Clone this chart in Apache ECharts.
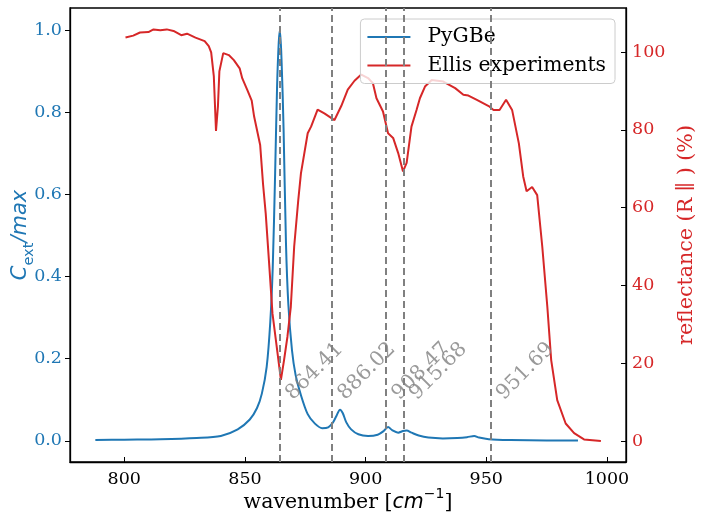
<!DOCTYPE html>
<html lang="en">
<head>
    <meta charset="UTF-8">
    <title>PyGBe vs Ellis</title>
    <style>
        html, body { margin: 0; padding: 0; background: #fff; }
        #chart1 { width: 706px; height: 524px; }
    </style>
</head>
<body>
<div id="chart1"></div>

<script type="text/javascript" src="https://cdn.jsdelivr.net/npm/echarts@6/dist/echarts.min.js"></script>
<script type="text/javascript">
    // PyGBe extinction (normalised), [wavenumber, Cext/max]
    var pygbeWn = [788, 800, 815, 830, 840, 847, 852, 855, 857, 859, 860.5, 861.5, 862.5, 863.3, 864.0, 864.5,
        865.2, 866.0, 867.0, 868.0, 869.5, 871, 873, 876, 879, 882, 884.5, 886.5, 888, 889.4, 890.5, 892, 894,
        897, 901, 905, 907.5, 909.3, 911, 913.5, 915.5, 917, 919, 922, 926, 932, 938, 942, 945, 947, 951, 960, 975, 988];
    var pygbeVal = [0.002, 0.003, 0.004, 0.007, 0.012, 0.028, 0.052, 0.08, 0.115, 0.18, 0.29, 0.42, 0.65, 0.86, 0.97, 1.0,
        0.92, 0.76, 0.48, 0.33, 0.22, 0.16, 0.115, 0.065, 0.042, 0.031, 0.033, 0.045, 0.062, 0.076, 0.068, 0.045, 0.028,
        0.016, 0.012, 0.015, 0.024, 0.034, 0.026, 0.02, 0.024, 0.025, 0.02, 0.013, 0.008, 0.006, 0.007, 0.009, 0.012, 0.008, 0.004, 0.002, 0.001, 0.001];

    // Ellis experiments reflectance (%)
    var ellisWn = [800.5, 803.7, 806.5, 810, 812.1, 814.9, 817.6, 820.4, 823.6, 826, 829.5, 833.3, 835, 836, 837.1, 838,
        838.8, 839.4, 841, 843.3, 845.4, 847.8, 848.9, 851, 852.8, 853.8, 856.3, 857.5, 858.6, 860, 861.4, 862.8, 864.9,
        866.2, 867.6, 869, 870.4, 872.1, 873.2, 876, 877.4, 880.1, 882.9, 887.1, 889.9, 892.6, 895.4, 898.2, 901, 903,
        904.5, 907.2, 909.3, 911.4, 913.5, 915.5, 917, 919, 921.1, 922.5, 924.6, 927.4, 932.2, 937.1, 940.5, 942.6, 946.1,
        951, 953, 955.5, 958.2, 960.7, 963.5, 965.3, 966.7, 969, 971.1, 973.2, 975.3, 976.9, 979.4, 982.9, 986.4, 990.5, 997.5];
    var ellisVal = [103.7, 104.2, 105.0, 105.1, 105.8, 105.6, 105.8, 105.4, 104.3, 104.7, 103.7, 102.8, 101.5, 99.9, 93.7, 79.7,
        86, 95, 99.7, 99.2, 97.9, 95.8, 93.2, 90.2, 87.5, 83.4, 76.1, 66, 58.5, 45.8, 32.8, 26, 15.7,
        20.8, 26.8, 34.5, 50, 62, 68.8, 79.1, 80.8, 85.2, 84.2, 82.5, 86.1, 90.3, 92.6, 94.2, 93.3, 92,
        88.1, 84.7, 79.1, 77.9, 74, 69.3, 71.5, 80.8, 85.1, 88.1, 91.1, 92.8, 92.4, 90.7, 89, 88.8, 87.7,
        86.1, 85.1, 85.1, 87.7, 85.1, 76.5, 68, 64.2, 65.3, 63.2, 50, 34.5, 20.8, 10.5, 4.5, 2, 0.4, 0];

    // resonance positions marked with dashed lines
    var peakWn = [864.41, 886.02, 908.47, 915.68, 951.69];

    var xTicks = [800, 850, 900, 950, 1000];
    var leftTicks = [0, 0.2, 0.4, 0.6, 0.8, 1.0];
    var rightTicks = [0, 20, 40, 60, 80, 100];

    var BLUE = '#1f77b4', RED = '#d62728', GRAY = '#808080';
    var SERIF = 'DejaVu Serif', SANS = 'DejaVu Sans';

    function zip(a, b) {
        return a.map(function (v, i) { return [v, b[i]]; });
    }

    var myChart1 = echarts.init(document.getElementById('chart1'));
    myChart1.setOption({
        animation: false,
        grid: {
            left: 70, right: 80, top: 8, bottom: 62,
            containLabel: false, outerBoundsMode: 'none',
            show: true, borderColor: '#000', borderWidth: 1.3, backgroundColor: 'transparent'
        },
        legend: {
            orient: 'vertical',
            right: 91, top: 19,
            icon: 'rect',
            itemWidth: 43, itemHeight: 2, itemGap: 8.5,
            padding: [8, 9, 8, 7],
            backgroundColor: 'rgba(255,255,255,0.8)',
            borderColor: '#cccccc', borderWidth: 1, borderRadius: 4,
            textStyle: { fontFamily: SERIF, fontSize: 20.3, lineHeight: 20, color: '#000', padding: [0, 0, 0, 12] },
            data: ['PyGBe', 'Ellis experiments']
        },
        xAxis: {
            type: 'value',
            min: 777.5, max: 1007.9,
            axisLine: { show: true, onZero: false, lineStyle: { color: '#000', width: 1.3 } },
            axisTick: { show: true, inside: true, length: 5, customValues: xTicks, lineStyle: { color: '#000' } },
            axisLabel: {
                customValues: xTicks, margin: 8, fontFamily: SERIF, fontSize: 17.5, color: '#000',
                formatter: function (v) { return String(v); }
            },
            splitLine: { show: false },
            name: '{a|wavenumber [}{m|cm}{s|−1}{a|]}',
            nameLocation: 'middle',
            nameMoveOverlap: false,
            nameGap: 25,
            nameTextStyle: {
                rich: {
                    a: { fontFamily: SERIF, fontSize: 20.5, color: '#000', lineHeight: 26, verticalAlign: 'bottom' },
                    m: { fontFamily: SANS, fontStyle: 'italic', fontSize: 20.5, color: '#000', lineHeight: 26, verticalAlign: 'bottom' },
                    s: { fontFamily: SANS, fontSize: 14, color: '#000', lineHeight: 26, verticalAlign: 'top' }
                }
            }
        },
        yAxis: [
            {
                type: 'value',
                min: -0.0514, max: 1.0535,
                position: 'left',
                axisLine: { show: true, onZero: false, lineStyle: { color: '#000', width: 1.3 } },
                axisTick: { show: true, inside: false, length: 5, customValues: leftTicks, lineStyle: { color: '#000' } },
                axisLabel: {
                    customValues: leftTicks, margin: 8, fontFamily: SERIF, fontSize: 17.5, color: BLUE,
                    formatter: function (v) { return v.toFixed(1); }
                },
                splitLine: { show: false },
                name: '{i|C}{s|ext}{i|/max}',
                nameLocation: 'middle',
                nameMoveOverlap: false,
                nameRotate: 90,
                nameGap: 33,
                nameTextStyle: {
                    rich: {
                        i: { fontFamily: SANS, fontStyle: 'italic', fontSize: 21, color: BLUE, lineHeight: 27, verticalAlign: 'top' },
                        s: { fontFamily: SANS, fontSize: 14.5, color: BLUE, lineHeight: 27, verticalAlign: 'bottom' }
                    }
                }
            },
            {
                type: 'value',
                min: -5.4, max: 111.3,
                position: 'right',
                axisLine: { show: true, onZero: false, lineStyle: { color: '#000', width: 1.3 } },
                axisTick: { show: true, inside: true, length: 5, customValues: rightTicks, lineStyle: { color: '#000' } },
                axisLabel: { customValues: rightTicks, margin: 6, fontFamily: SERIF, fontSize: 17.5, color: RED },
                splitLine: { show: false },
                name: 'reflectance (R \u2225 ) (%)',
                nameLocation: 'middle',
                nameMoveOverlap: false,
                nameRotate: 90,
                nameGap: 50,
                nameTextStyle: { fontFamily: SERIF, fontSize: 20.6, color: RED }
            }
        ],
        series: [
            {
                name: 'PyGBe',
                type: 'line',
                yAxisIndex: 0,
                data: zip(pygbeWn, pygbeVal),
                showSymbol: false, symbol: 'none',
                smooth: 0.3,
                lineStyle: { color: BLUE, width: 2 },
                itemStyle: { color: BLUE },
                z: 3,
                markLine: {
                    silent: true,
                    symbol: ['none', 'none'],
                    label: { show: false },
                    lineStyle: { color: GRAY, type: [7, 4], width: 2 },
                    data: peakWn.map(function (w) { return { xAxis: w }; })
                }
            },
            {
                name: 'Ellis experiments',
                type: 'line',
                yAxisIndex: 1,
                data: zip(ellisWn, ellisVal),
                showSymbol: false, symbol: 'none',
                lineStyle: { color: RED, width: 2 },
                itemStyle: { color: RED },
                z: 3
            },
            {
                name: 'peaks',
                type: 'scatter',
                yAxisIndex: 0,
                silent: true,
                symbolSize: 0,
                data: peakWn.map(function (w) { return [w, 0.1]; }),
                label: {
                    show: true,
                    position: 'inside',
                    align: 'left',
                    verticalAlign: 'bottom',
                    rotate: 45,
                    offset: [9, 15],
                    fontFamily: SERIF,
                    fontSize: 20.5,
                    color: GRAY,
                    formatter: function (p) { return p.value[0].toFixed(2); }
                },
                z: 4
            }
        ]
    });
</script>

</body>
</html>
